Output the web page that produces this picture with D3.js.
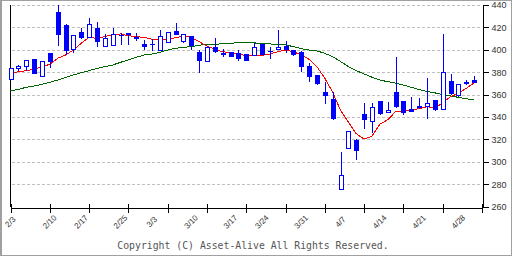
<!DOCTYPE html>
<html><head><meta charset="utf-8">
<script src="https://cdn.jsdelivr.net/npm/d3@7"></script>
<style>html,body{margin:0;padding:0;background:#fff;}svg{display:block;}</style>
</head><body>
<script>
const dates = ["2/3","2/4","2/5","2/6","2/7","2/10","2/12","2/13","2/14","2/17","2/18","2/19","2/20","2/21","2/25","2/26","2/27","2/28","3/3","3/4","3/5","3/6","3/7","3/10","3/11","3/12","3/13","3/14","3/17","3/18","3/19","3/21","3/24","3/25","3/26","3/27","3/28","3/31","4/1","4/2","4/3","4/4","4/7","4/8","4/9","4/10","4/11","4/14","4/15","4/16","4/17","4/18","4/21","4/22","4/23","4/24","4/25","4/28","4/30","5/1"];
const open  = [373.6,383.5,385,391.8,376.3,397.4,433.7,422,400,415.6,410.8,419.2,402.8,403.8,413.2,414.7,411.7,405.2,405.3,399.2,406.5,416.8,407.4,412,398,389.7,402.8,397.4,397.7,396.8,396.2,395.3,405.2,398.8,400.1,403.4,399.8,398.3,385.5,377.5,362.5,356,275.5,312,319.4,342.6,335.8,354.2,344.1,362.3,354.2,346.8,350.1,349.2,355.1,346.8,372.1,359.6,370.4,373];
const high  = [383.6,386.5,390,392,389,397.5,440.3,423,413.5,419.5,428,424.8,413.8,419.2,415,415.2,414.7,409,409.5,417.6,416,424.3,413.5,412.2,399.8,402.5,410.5,400.4,398,399.8,396.5,405.8,405.5,402.2,417.7,407.6,400,398.5,388.5,377.5,371.5,362.6,309,327.6,320.6,352.5,352.5,354.5,353.1,393.3,354.5,357.8,356.7,374.5,355.5,414.1,378.4,369.5,373,376.6];
const low   = [373.4,381,381.3,378.4,376,383.5,403.4,395,397.5,410,410.8,402.8,402.8,403.6,404.5,404.5,407.5,399.6,399.3,399,406.3,413,405.8,399.8,379.5,389.5,396.8,393.9,393.5,390.2,390,395,395,391.5,400,397.4,394.2,380.4,371.5,368.7,351.6,337.5,275.4,311.8,301.5,329.5,325.6,342,344,347.7,341.7,344,347.5,338.4,345.5,346.5,360,357.5,368.5,370];
const close = [383.4,385.5,390,378.4,389.1,389.1,413.2,399.2,413.2,410.2,422.7,407.2,410.2,413.8,412.8,413.2,409.8,402.2,405,412,415.6,413.2,413.3,403.6,390.2,402.2,398.3,395.6,393.8,391.5,390.2,402.2,395.3,398.3,402.2,399.8,395.3,385,376,369.4,358.8,338.2,288,327.4,310,337.6,348.6,342.6,346.2,349.2,343.5,344.4,347.7,352.2,346.2,380.1,360.5,369.1,370.8,370.6];
const ma5   = [379,380.4,381.3,382.5,384.9,387,392.4,395.3,399.8,405.8,411.1,410.2,411.7,413.5,414.1,412.6,411.7,411.1,409.4,408.7,409.4,410.8,412.3,411.1,407.2,403.4,400.4,398.3,397.4,396.8,394.4,395,395,396.2,398.3,399.8,398.3,395.3,391.5,384.9,374.5,362,346,335.5,325,320.3,322.8,333.5,337.5,344.7,345.6,346.2,347.4,349.2,347.7,352.7,358.1,361.1,365.6,370.4];
const ma25  = [363.4,364.6,366.5,367.6,369.1,370.9,373,375.1,377.5,379.5,381.3,383.4,384.9,386.4,388.8,391,393.3,395.3,396.2,397.7,399.8,401.3,402.2,402.8,404,404.9,404.9,405.4,405.8,406.3,406.7,406.1,405.8,405.2,404.9,404.3,402.8,401,399.8,399,396.8,393.8,389.5,385,381.3,378.4,375.5,373,371.5,370.3,368.5,366.5,364.5,362.8,361.5,360,358.8,357.5,356.2,355.3];
const tickLabels = ["2/3","2/10","2/17","2/25","3/3","3/10","3/17","3/24","3/31","4/7","4/14","4/21","4/28"];
const yTicks = [260,280,300,320,340,360,380,400,420,440];

const W = 512, H = 256;
const svg = d3.select("body").append("svg").attr("width", W).attr("height", H);
svg.append("rect").attr("x",0.5).attr("y",0.5).attr("width",W-1).attr("height",H-1)
  .attr("fill","#fff").attr("stroke","#a0a0a0").attr("stroke-width",1);
svg.append("rect").attr("x",0).attr("y",0).attr("width",2).attr("height",H).attr("fill","#a0a0a0");

const x = d3.scaleLinear().domain([0, 60]).range([10.5, 482]);
const y = d3.scaleLinear().domain([260, 440]).range([206.5, 5]);

// grid
const g = svg.append("g");
g.selectAll("line.grid").data(yTicks.filter(v => v > 260)).enter().append("line")
  .attr("x1", 12).attr("x2", 481)
  .attr("y1", d => Math.round(y(d)) + 0.5).attr("y2", d => Math.round(y(d)) + 0.5)
  .attr("stroke", "#c0c0c0").attr("stroke-dasharray", "3,2").attr("shape-rendering","crispEdges");

// right axis
const yAxis = d3.axisRight(y).tickValues(yTicks).tickSize(6).tickPadding(3).tickFormat(d3.format("d"));
const ya = svg.append("g").attr("transform", "translate(482.5,0)").call(yAxis);
ya.select(".domain").attr("stroke","#000").attr("shape-rendering","crispEdges");
ya.selectAll(".tick line").attr("stroke","#000").attr("shape-rendering","crispEdges");
ya.selectAll(".tick text").attr("font-family","'Liberation Sans', Arial, sans-serif").attr("font-size","9px").attr("fill","#333");

// left axis line
svg.append("line").attr("x1",10.5).attr("x2",10.5).attr("y1",y(440)).attr("y2",y(260))
  .attr("stroke","#000").attr("shape-rendering","crispEdges");

// bottom axis
const tickIdx = d3.range(0, 61, 5);
const xAxis = d3.axisBottom(x).tickValues(tickIdx).tickSize(5).tickFormat("");
const xa = svg.append("g").attr("transform", `translate(0,${Math.round(y(260))+0.5})`).call(xAxis);
xa.select(".domain").attr("stroke","#000").attr("shape-rendering","crispEdges");
xa.selectAll(".tick line").attr("stroke","#000").attr("y1",-4).attr("shape-rendering","crispEdges");

// x labels
svg.append("g").selectAll("text").data(tickLabels).enter().append("text")
  .attr("transform", d => { const i = dates.indexOf(d); const px = x(i < 0 ? 60 : i); return `translate(${px},222) rotate(-45)`; })
  .attr("text-anchor","middle").attr("dominant-baseline","central")
  .attr("font-family","'Liberation Sans', Arial, sans-serif").attr("font-size","8px").attr("fill","#333")
  .text(d => d);

// MA lines
const line = d3.line().x((d,i) => x(i)).y(d => y(d));
svg.append("path").datum(ma25).attr("d", line).attr("fill","none").attr("stroke","#006400").attr("stroke-width",1).attr("shape-rendering","crispEdges");
svg.append("path").datum(ma5).attr("d", line).attr("fill","none").attr("stroke","#ff0000").attr("stroke-width",1).attr("shape-rendering","crispEdges");

// candles
const idx = d3.range(dates.length);
const cg = svg.append("g").attr("shape-rendering","crispEdges");
cg.selectAll("line.wick").data(idx).enter().append("line")
  .attr("x1", i => Math.round(x(i)) + 0.5).attr("x2", i => Math.round(x(i)) + 0.5)
  .attr("y1", i => y(high[i])).attr("y2", i => y(low[i]))
  .attr("stroke","#0000ff");
cg.selectAll("rect.body").data(idx).enter().append("rect")
  .attr("x", i => Math.round(x(i)) - 2 + (close[i] >= open[i] ? 0.5 : 0))
  .attr("width", i => close[i] >= open[i] ? 4 : 5)
  .attr("y", i => y(Math.max(open[i], close[i])))
  .attr("height", i => Math.max(1, Math.abs(y(open[i]) - y(close[i]))))
  .attr("fill", i => close[i] >= open[i] ? "#fff" : "#0000ff")
  .attr("stroke", i => close[i] >= open[i] ? "#0000ff" : "none");

// copyright
svg.append("text").attr("x", 253).attr("y", 249).attr("text-anchor","middle")
  .attr("font-family","'DejaVu Sans Mono', 'Liberation Mono', monospace").attr("font-size","9.8px").attr("fill","#555")
  .text("Copyright (C) Asset-Alive All Rights Reserved.");
</script>
</body></html>
